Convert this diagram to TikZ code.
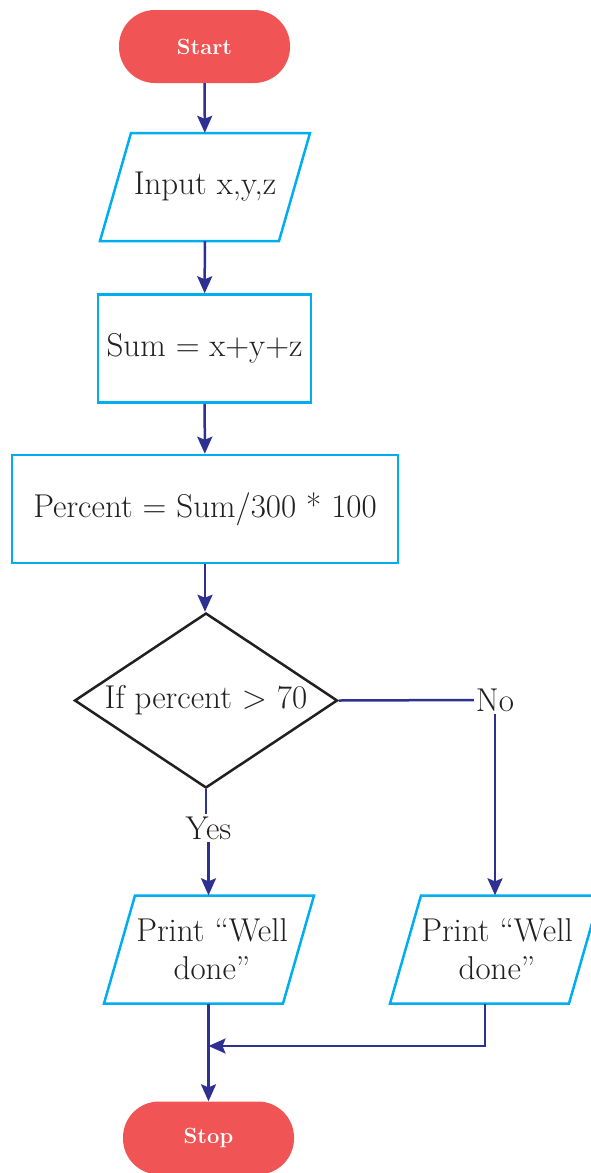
\documentclass[tikz,border=0pt]{standalone}
\usepackage{xcolor}
\usepackage{tikz}
\usetikzlibrary{shapes.geometric, arrows.meta}

\definecolor{termred}{RGB}{240,84,84}
\definecolor{boxcyan}{RGB}{0,174,239}
\definecolor{flowblue}{RGB}{46,49,146}
\definecolor{diaink}{RGB}{35,31,32}

\begin{document}
\begin{tikzpicture}[x=1pt, y=-1pt,
    txt/.style={font=\fontsize{33}{38}\selectfont, text=diaink},
    term/.style={fill=termred, rounded corners=36pt, minimum width=171pt,
      minimum height=73pt, text=white, font=\bfseries\fontsize{22}{26}\selectfont},
    proc/.style={txt, draw=boxcyan, line width=2.5pt, minimum height=108pt},
    iobox/.style={txt, minimum width=150pt, minimum height=108pt, inner sep=0pt, align=center},
    ioedge/.style={draw=boxcyan, line width=2.5pt, line join=miter},
    decide/.style={txt, diamond, aspect=1.5, draw=diaink, line width=2.5pt,
      minimum width=263pt, minimum height=175pt, inner sep=1pt},
    link/.style={draw=flowblue, line width=2.5pt},
    flow/.style={link, -{Stealth[length=17pt, width=15pt, inset=3pt]}}]
  \useasboundingbox (0,0) rectangle (590,1173);

  % ---- main column ----
  \node[term] (start) at (204.5,46.5) {Start};
  \node[iobox] (input) at (205,187) {Input x,y,z};
  \node[proc, minimum width=213pt] (sum) at (204.5,348.5) {Sum = x+y+z};
  \node[proc, minimum width=386pt] (pct) at (205,509) {Percent = Sum/300 * 100};
  \node[decide] (test) at (206,700.5) {If percent \textgreater\ 70};

  % ---- branches ----
  \node[txt, inner sep=2pt] (yes) at (208.5,828) {Yes};
  \node[txt, inner sep=2pt] (no) at (495,700) {No};
  \node[iobox] (good) at (212,949.5) {Print “Well\\ done”};
  \node[iobox] (other) at (497,949.5) {Print “Well\\ done”};
  \node[term] (stop) at (208.5,1138) {Stop};
  \coordinate (join) at (208.5,1046);

  % ---- input/output parallelograms ----
  \foreach \cx/\cy in {205/187, 209/949.5, 495/949.5} {
    \draw[ioedge] (\cx-105,\cy+54) -- ++(31,-108) -- ++(179,0) -- ++(-31,108) -- cycle;
  }

  \draw[flow] (start) -- (input);
  \draw[flow] (input) -- (sum);
  \draw[flow] (sum) -- (pct);
  \draw[flow] (pct.south) -- (pct.south |- test.north);
  \draw[link] (test.south) -- (test.south |- yes.north);
  \draw[flow] (yes.south) -- (yes.south |- good.north);
  \draw[link] (test.east) -- (no.west);
  \draw[flow] (no.south) -- (no.south |- other.north);
  \draw[flow] (good.south -| stop) -- (stop);
  \draw[flow] ([xshift=-12pt]other.south) |- (join);
\end{tikzpicture}
\end{document}
